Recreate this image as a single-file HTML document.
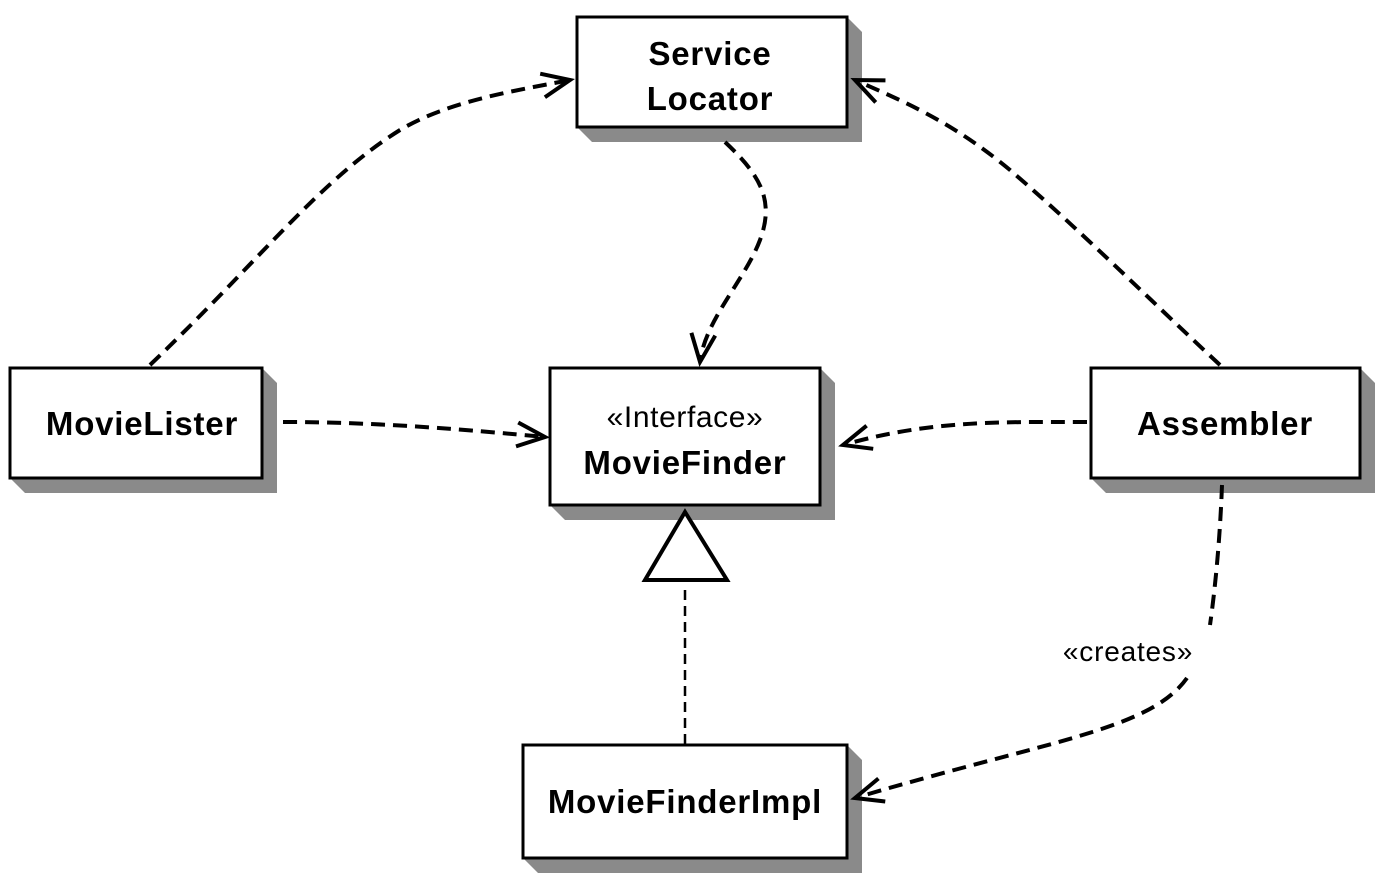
<!DOCTYPE html>
<html><head><meta charset="utf-8"><style>
html,body{margin:0;padding:0;background:#fff;}
svg{display:block}
text{font-family:"Liberation Sans",Arial,sans-serif;fill:#000}
</style></head><body>
<svg width="1390" height="890" viewBox="0 0 1390 890" xmlns="http://www.w3.org/2000/svg">
<defs>
<marker id="a" markerWidth="40" markerHeight="40" refX="30" refY="15" orient="auto" markerUnits="userSpaceOnUse">
<path d="M2,3 L30,15 L2,27" fill="none" stroke="#000" stroke-width="4"/>
</marker>
</defs>
<g fill="#8a8a8a">
<polygon points="577,127 592,142 862,142 862,32 847,17 847,127"/>
<polygon points="10,478 25,493 277,493 277,383 262,368 262,478"/>
<polygon points="550,505 565,520 835,520 835,383 820,368 820,505"/>
<polygon points="1091,478 1106,493 1375,493 1375,383 1360,368 1360,478"/>
<polygon points="523,858 538,873 862,873 862,760 847,745 847,858"/>
</g>
<g fill="#fff" stroke="#000" stroke-width="3">
<rect x="577" y="17" width="270" height="110"/>
<rect x="10" y="368" width="252" height="110"/>
<rect x="550" y="368" width="270" height="137"/>
<rect x="1091" y="368" width="269" height="110"/>
<rect x="523" y="745" width="324" height="113"/>
</g>
<g font-weight="bold" font-size="33" text-anchor="middle" letter-spacing="0.8">
<text x="710" y="65">Service</text>
<text x="710" y="110">Locator</text>
<text x="142" y="435">MovieLister</text>
<text x="685" y="474">MovieFinder</text>
<text x="1225" y="435">Assembler</text>
<text x="685" y="813">MovieFinderImpl</text>
</g>
<text x="685" y="427" font-size="30" text-anchor="middle" letter-spacing="0.6">«Interface»</text>
<text x="1128" y="661" font-size="28" text-anchor="middle" letter-spacing="0.8">«creates»</text>
<g fill="none" stroke="#000" stroke-width="4" stroke-dasharray="14,8">
<path d="M150,365 C260,260 320,180 400,130 C450,100 520,90 570,80" marker-end="url(#a)"/>
<path d="M725,142 C760,175 775,200 760,240 C745,280 705,320 700,362" marker-end="url(#a)"/>
<path d="M1220,365 C1150,300 1080,230 1010,170 C950,120 900,100 855,80" marker-end="url(#a)"/>
<path d="M283,422 C380,422 470,430 545,437" marker-end="url(#a)"/>
<path d="M1087,422 C1000,422 930,420 843,445" marker-end="url(#a)"/>
<path d="M1222,485 C1220,540 1215,590 1210,625"/>
<path d="M1187,678 C1150,730 1050,740 855,798" marker-end="url(#a)"/>
</g>
<polygon points="685,512 645,580 727,580" fill="#fff" stroke="#000" stroke-width="4"/>
<line x1="685" y1="590" x2="685" y2="745" stroke="#000" stroke-width="2.5" stroke-dasharray="10,6"/>
</svg>
</body></html>
